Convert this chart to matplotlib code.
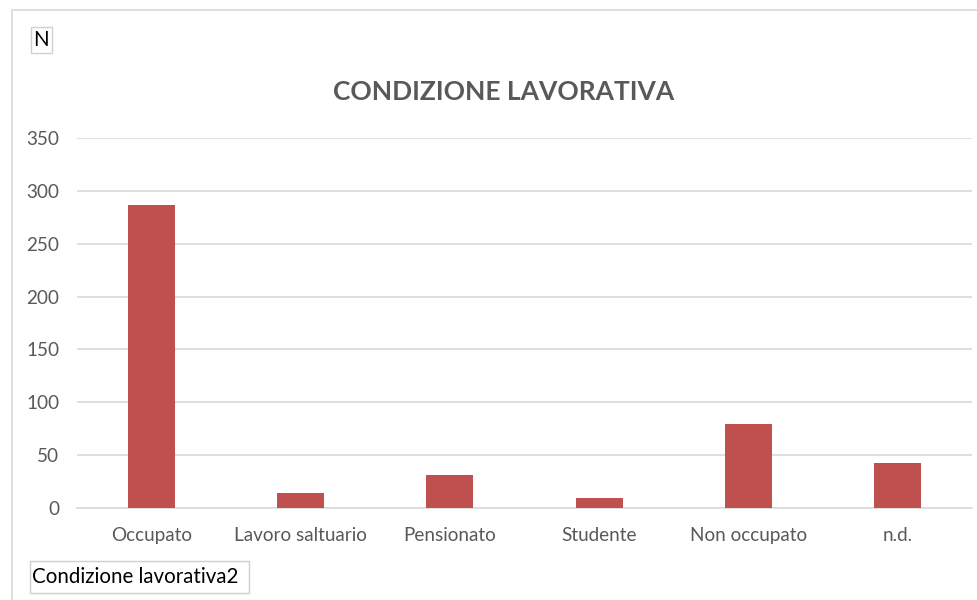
import matplotlib.pyplot as plt
from matplotlib.patches import Rectangle

categories = ["Occupato", "Lavoro saltuario", "Pensionato", "Studente", "Non occupato", "n.d."]
counts = [287, 14, 31, 9, 79, 43]
y_ticks = [0, 50, 100, 150, 200, 250, 300, 350]

W, H = 978, 600
fig = plt.figure(figsize=(W / 100, H / 100), dpi=100)
plt.rcParams['font.family'] = ['Lato', 'DejaVu Sans']

# plot area in pixels: left 77, right 972, y=0 at 508, y=350 at 138
ax = fig.add_axes([77 / W, 1 - 508 / H, (972 - 77) / W, (508 - 138) / H])
x = list(range(len(categories)))
ax.bar(x, counts, width=0.315, color="#C0504D", zorder=3)
ax.set_xlim(-0.5, len(categories) - 0.5)
ax.set_ylim(0, 350)
ax.set_yticks(y_ticks)
ax.set_xticks(x)
ax.set_xticklabels(categories)
ax.tick_params(axis="both", length=0, colors="#595959", labelsize=13.6)
ax.tick_params(axis="x", pad=14)
ax.tick_params(axis="y", pad=13)
ax.yaxis.grid(True, color="#d9d9d9", linewidth=1.2, zorder=0)
for s in ["top", "right", "left"]:
    ax.spines[s].set_visible(False)
ax.spines["bottom"].set_color("#d9d9d9")
ax.spines["bottom"].set_linewidth(1.2)

# chart title
fig.text(504 / W, 1 - 92 / H, "CONDIZIONE LAVORATIVA", ha="center", va="center",
         fontsize=19, fontweight="bold", color="#595959")

# outer chart border
fig.patches.append(Rectangle((12 / W, -0.1), 1.2, 1 - 10 / H + 0.1, transform=fig.transFigure,
                             fill=False, edgecolor="#d9d9d9", linewidth=1.2))

# pivot field buttons (boxes in pixel coords)
def field_button(x0, y0, x1, y1, label):
    fig.patches.append(Rectangle((x0 / W, 1 - y1 / H), (x1 - x0) / W, (y1 - y0) / H,
                                 transform=fig.transFigure, facecolor="white",
                                 edgecolor="#d0d0d0", linewidth=1))
    fig.text((x0 + 2) / W, 1 - (y0 + y1) / 2 / H, label, ha="left", va="center",
             fontsize=14.8, color="black")

field_button(31, 27, 52, 53, "N")
field_button(30, 561, 249, 593, "Condizione lavorativa2")

plt.savefig("out.png", dpi=100)
